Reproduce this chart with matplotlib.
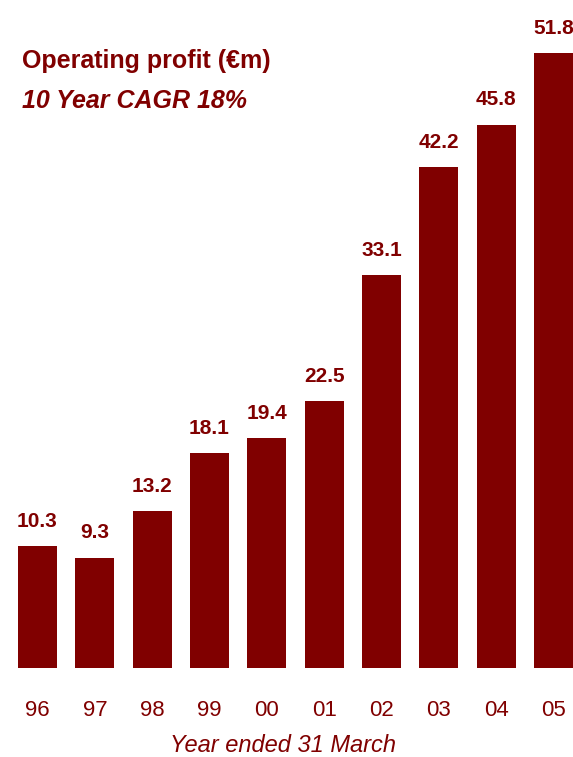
import matplotlib

matplotlib.use("Agg")
import matplotlib.pyplot as plt

years = ["96", "97", "98", "99", "00", "01", "02", "03", "04", "05"]
profit = [10.3, 9.3, 13.2, 18.1, 19.4, 22.5, 33.1, 42.2, 45.8, 51.8]

MAROON = "#800000"
plt.rcParams["font.family"] = ["Liberation Sans", "DejaVu Sans"]

fig = plt.figure(figsize=(5.73, 7.57), dpi=100)
ax = fig.add_axes([0.0, 89 / 757, 1.0, 668 / 757])

x = range(len(years))
bars = ax.bar(x, profit, width=0.68, color=MAROON, linewidth=0)

for rect, val in zip(bars, profit):
    ax.annotate(f"{val:.1f}", (rect.get_x() + rect.get_width() / 2, val),
                xytext=(0, 11), textcoords="offset points",
                ha="center", va="bottom", fontsize=15, fontweight="bold",
                color=MAROON, annotation_clip=False)

ax.set_xlim(-0.654, 9.34)
ax.set_ylim(0, 56.3)
ax.axis("off")

# year labels under the bars
for i, yr in enumerate(years):
    fig.text((37.5 + i * 57.33) / 573, 1 - 711 / 757, yr, ha="center",
             va="center", fontsize=16, color=MAROON)

fig.text(283 / 573, 1 - 746 / 757, "Year ended 31 March", ha="center",
         va="center", fontsize=17, style="italic", color=MAROON)

fig.text(22 / 573, 1 - 61 / 757, "Operating profit (\u20acm)", ha="left",
         va="center", fontsize=18, fontweight="bold", color=MAROON)
fig.text(22 / 573, 1 - 101 / 757, "10 Year CAGR 18%", ha="left",
         va="center", fontsize=18, fontweight="bold", style="italic",
         color=MAROON)

fig.savefig("out.png", dpi=100)
